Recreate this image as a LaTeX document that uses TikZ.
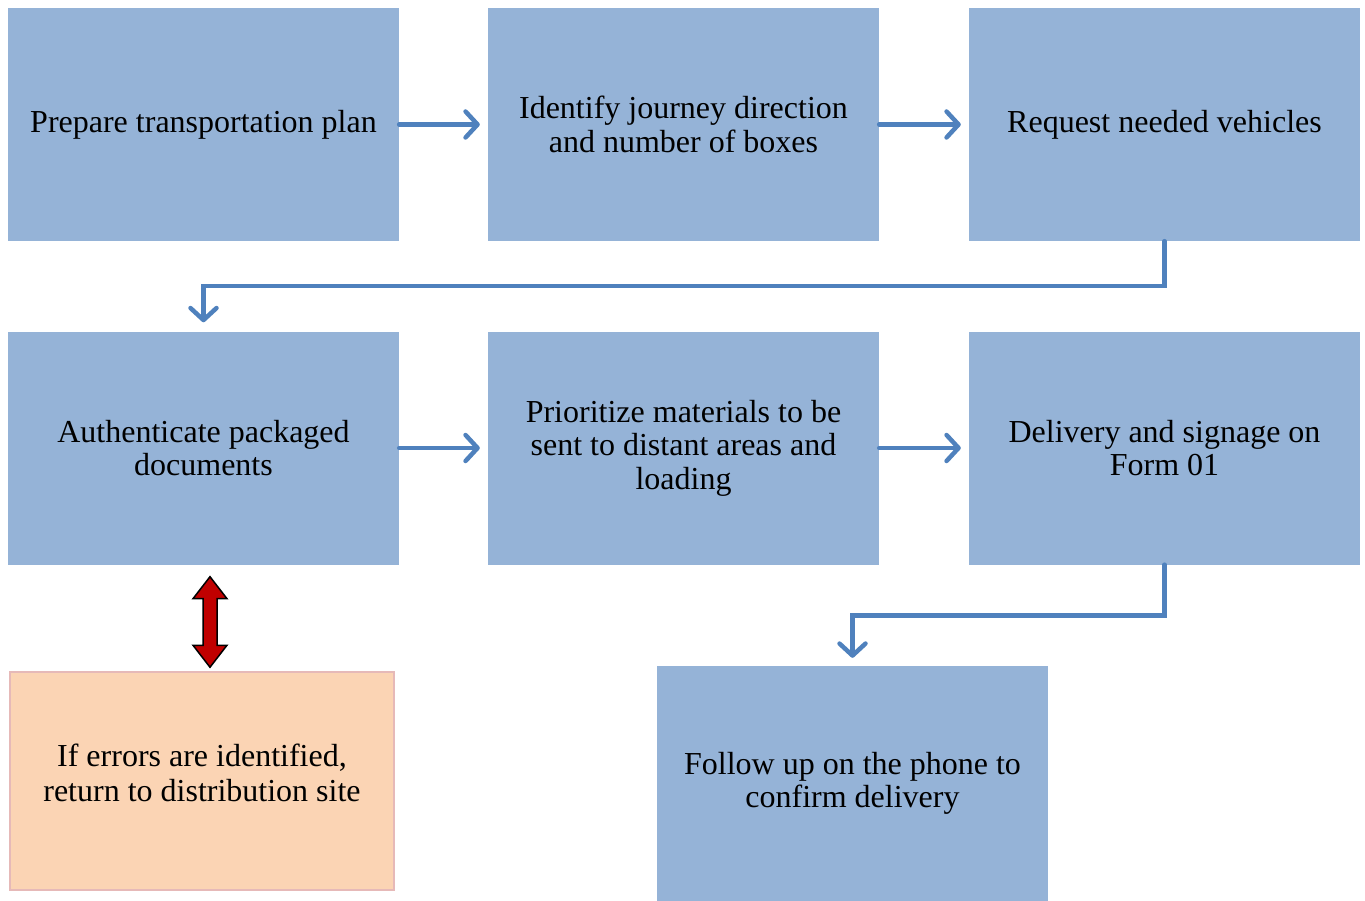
\documentclass[tikz,border=0pt]{standalone}
\usepackage{fontspec}
\setmainfont{Liberation Serif}
\usetikzlibrary{arrows.meta,calc}
\definecolor{boxblue}{HTML}{95B3D7}
\definecolor{arrblue}{HTML}{4F81BD}
\definecolor{peach}{HTML}{FBD4B4}
\definecolor{peachline}{HTML}{E6B9B8}
\definecolor{darkred}{HTML}{C00000}
\newcommand{\liftby}[2]{\raisebox{0pt}[\height][\dimexpr\depth+#1\relax]{\begin{tabular}{@{}c@{}}#2\end{tabular}}}
\tikzset{
  bluebox/.style={rectangle, fill=boxblue, minimum width=391pt, minimum height=233pt, inner sep=0pt, align=center, font=\fontsize{32}{33.5}\selectfont},
  peachbox/.style={rectangle, fill=peach, draw=peachline, line width=1.5pt, minimum width=384pt, minimum height=218pt, inner sep=0pt, font=\fontsize{32}{35}\selectfont},
  conn/.style={draw=arrblue, line width=4.5pt, -{Straight Barb[length=12pt,width=26pt,line cap=round,line join=round]}, line cap=round, line join=miter},
  bothway/.style={fill=darkred, draw=black, line width=1.5pt, line join=miter}
}
\begin{document}
\begin{tikzpicture}[x=1pt,y=-1pt]
\useasboundingbox (0,0) rectangle (1365,901);
\node[bluebox] (b1) at (203.5,124.5) {Prepare transportation plan};
\node[bluebox] (b2) at (683.5,124.5) {Identify journey direction\\and number of boxes};
\node[bluebox] (b3) at (1164.5,124.5) {Request needed vehicles};
\node[bluebox] (b4) at (203.5,448) {Authenticate packaged\\documents};
\node[bluebox] (b5) at (683.5,448) {Prioritize materials to be\\sent to distant areas and\\loading};
\node[bluebox] (b6) at (1164.5,448) {Delivery and signage on\\Form 01};
\node[bluebox, minimum height=235pt] (b7) at (852.5,783.5) {Follow up on the phone to\\confirm delivery};
\node[peachbox] (e1) at (202,781) {\liftby{8pt}{If errors are identified,\\return to distribution site}};

\draw[conn, shorten >=8pt] (b1) -- (b2);
\draw[conn, shorten >=8pt] (b2) -- (b3);
\draw[conn, shorten >=8pt] (b4) -- (b5);
\draw[conn, shorten >=8pt] (b5) -- (b6);
\draw[conn, shorten >=9pt] (b3.south) -- ++(0,45) -| (b4.north);
\draw[conn, shorten >=8pt] (b6.south) -- ++(0,51) -| (b7.north);

% red double arrow between b4 and e1
\coordinate (ra) at ($(b4.south)+(6.5,12)$);
\coordinate (rb) at ($(e1.north)+(8,-4)$);
\draw[bothway] (ra) -- ++(17,22) -- ++(-10,0) -- ($(rb)+(7,-22)$) -- ++(10,0) -- (rb) -- ++(-17,-22) -- ++(10,0) -- ($(ra)+(-7,22)$) -- ++(-10,0) -- cycle;
\end{tikzpicture}
\end{document}
